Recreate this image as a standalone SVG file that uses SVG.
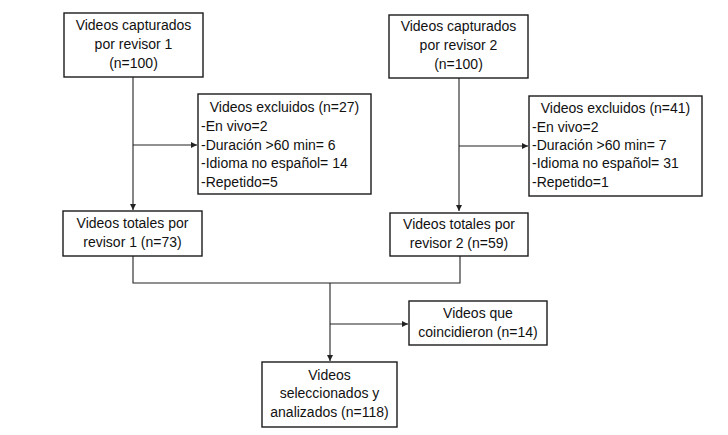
<svg xmlns="http://www.w3.org/2000/svg" width="728" height="435" viewBox="0 0 728 435">
<style>
.box{fill:#fff;stroke:#1a1a1a;stroke-width:1.4}
.t{font-family:"Liberation Sans",Arial,sans-serif;font-size:14px;fill:#111}
.c{text-anchor:middle}
.ln{fill:none;stroke:#222;stroke-width:1.1}
</style>
<defs>
<marker id="ah" markerWidth="7" markerHeight="6" refX="6" refY="3" orient="auto" markerUnits="userSpaceOnUse">
<path d="M0,0 L6,3 L0,6 Z" fill="#222"/>
</marker>
</defs>
<rect width="728" height="435" fill="#fff"/>
<g id="connectors">
<path class="ln" d="M133,77 V210" marker-end="url(#ah)"/>
<path class="ln" d="M133,145 H197" marker-end="url(#ah)"/>
<path class="ln" d="M459,78 V211" marker-end="url(#ah)"/>
<path class="ln" d="M459,146 H528" marker-end="url(#ah)"/>
<path class="ln" d="M133,256 V283 H460 V256"/>
<path class="ln" d="M330,283 V361" marker-end="url(#ah)"/>
<path class="ln" d="M330,324 H408" marker-end="url(#ah)"/>
</g>
<g id="cap1">
<rect class="box" x="64" y="13" width="139" height="64"/>
<text class="t c" x="133.5" y="30">Videos capturados</text>
<text class="t c" x="133.5" y="49">por revisor 1</text>
<text class="t c" x="133.5" y="68">(n=100)</text>
</g>
<g id="cap2">
<rect class="box" x="389" y="15" width="139" height="63"/>
<text class="t c" x="458.5" y="31">Videos capturados</text>
<text class="t c" x="458.5" y="50">por revisor 2</text>
<text class="t c" x="458.5" y="69">(n=100)</text>
</g>
<g id="excl1">
<rect class="box" x="198" y="94" width="173" height="100"/>
<text class="t c" x="284.5" y="112">Videos excluidos (n=27)</text>
<text class="t" x="201" y="131">-En vivo=2</text>
<text class="t" x="201" y="150">-Duración &gt;60 min= 6</text>
<text class="t" x="201" y="168">-Idioma no español= 14</text>
<text class="t" x="201" y="187">-Repetido=5</text>
</g>
<g id="excl2">
<rect class="box" x="529" y="96" width="173" height="100"/>
<text class="t c" x="615.5" y="113">Videos excluidos (n=41)</text>
<text class="t" x="532" y="132">-En vivo=2</text>
<text class="t" x="532" y="150">-Duración &gt;60 min= 7</text>
<text class="t" x="532" y="168">-Idioma no español= 31</text>
<text class="t" x="532" y="187">-Repetido=1</text>
</g>
<g id="tot1">
<rect class="box" x="63" y="211" width="139" height="45"/>
<text class="t c" x="132.5" y="228">Videos totales por</text>
<text class="t c" x="132.5" y="247">revisor 1 (n=73)</text>
</g>
<g id="tot2">
<rect class="box" x="390" y="213" width="138" height="43"/>
<text class="t c" x="459" y="229">Videos totales por</text>
<text class="t c" x="459" y="248">revisor 2 (n=59)</text>
</g>
<g id="coinc">
<rect class="box" x="409" y="301" width="138" height="44"/>
<text class="t c" x="478" y="318">Videos que</text>
<text class="t c" x="478" y="337">coincidieron (n=14)</text>
</g>
<g id="final">
<rect class="box" x="262" y="362" width="135" height="65"/>
<text class="t c" x="329.5" y="380">Videos</text>
<text class="t c" x="329.5" y="398">seleccionados y</text>
<text class="t c" x="329.5" y="417">analizados (n=118)</text>
</g>
</svg>
